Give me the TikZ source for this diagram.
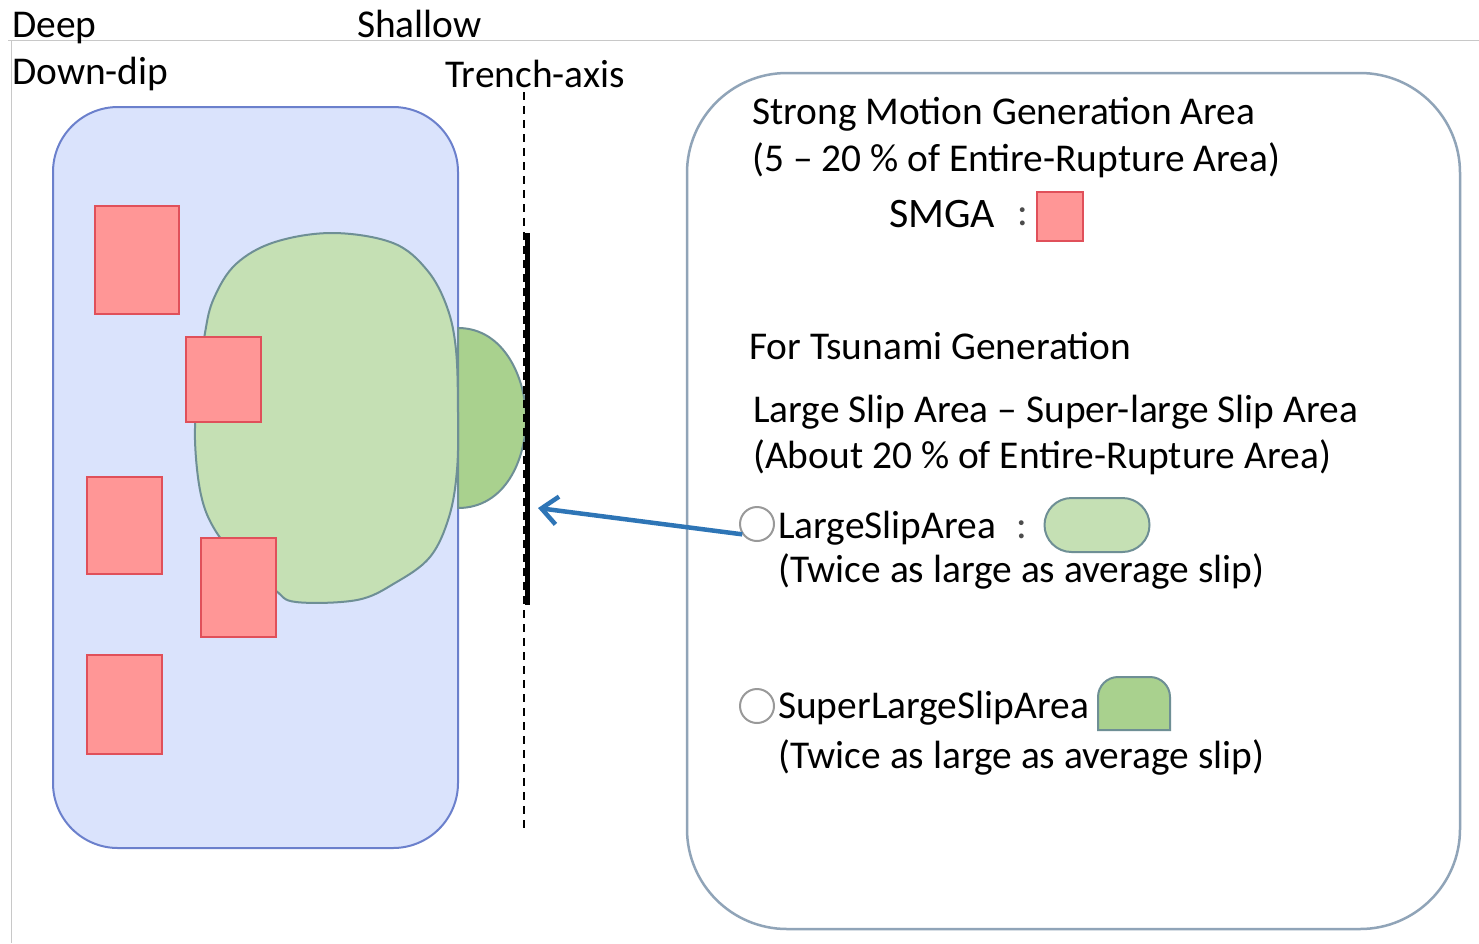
\documentclass[tikz,border=0pt]{standalone}
\usepackage{fontspec}
\setmainfont{Carlito}
\usetikzlibrary{arrows.meta}
\definecolor{faultfill}{HTML}{DAE3FC}
\definecolor{faultedge}{HTML}{6B80CC}
\definecolor{smgafill}{HTML}{FF9696}
\definecolor{smgaedge}{HTML}{E0505A}
\definecolor{lsafill}{HTML}{C5E0B4}
\definecolor{slsafill}{HTML}{A9D18E}
\definecolor{greenedge}{HTML}{6E8F95}
\definecolor{boxedge}{HTML}{90A4B8}
\definecolor{arrowblue}{HTML}{2E75B6}
\definecolor{rulegray}{HTML}{C8C8C8}
\begin{document}
\begin{tikzpicture}[x=1pt,y=-1pt,
  txt/.style={anchor=base west, inner sep=0pt, font=\fontsize{39.4}{47}\selectfont},
  smgabox/.style={draw=smgaedge, fill=smgafill, line width=2pt, inner sep=0pt},
  lsashape/.style={draw=greenedge, fill=lsafill, line width=2pt},
  slsashape/.style={draw=greenedge, fill=slsafill, line width=2pt},
  bullet/.style={circle, draw=gray!80, line width=2pt, minimum size=34pt, inner sep=0pt},
  colon/.style={anchor=base, inner sep=0pt, text=black!70, font=\fontsize{40}{47}\selectfont}]
\useasboundingbox (0,0) rectangle (1479,943);
\fill[white] (0,0) rectangle (1479,943);
% rules
\draw[rulegray, line width=1pt] (8,40) -- (1479,40);
\draw[rulegray, line width=1pt] (11,40) -- (11,943);
% header texts
\node[txt] (deep) at (12,37) {Deep};
\node[txt] (shallow) at (357,37) {Shallow};
\node[txt] (downdip) at (12,84) {Down-dip};
\node[txt] (trench) at (445,87) {Trench-axis};
% fault plane
\node[draw=faultedge, fill=faultfill, line width=2pt, rounded corners=65pt,
      minimum width=405pt, minimum height=741pt, inner sep=0pt] (fault) at (255.5,477.5) {};
% super large slip area (dark green)
\draw[slsashape] (458,328) .. controls (505,328) and (526,380) .. (526,418)
      .. controls (526,460) and (505,508) .. (458,508) -- cycle;
% large slip area (light green)
\draw[lsashape] plot[smooth cycle, tension=0.6] coordinates {
  (333,233) (393,243) (427,270) (447,307) (456,350) (458,413) (457,470)
  (449,517) (430,557) (395,583) (357,600) (296,602) (275,590) (240,560)
  (215,530) (201,495) (195,440) (198,390) (205,333) (214,298) (236,264) (275,242)};
% SMGAs
\node[smgabox, minimum width=84pt, minimum height=108pt] (r1) at (137,260) {};
\node[smgabox, minimum width=75pt, minimum height=85pt] (r2) at (223.5,379.5) {};
\node[smgabox, minimum width=75pt, minimum height=97pt] (r3) at (124.5,525.5) {};
\node[smgabox, minimum width=75pt, minimum height=99pt] (r4) at (238.5,587.5) {};
\node[smgabox, minimum width=75pt, minimum height=99pt] (r5) at (124.5,704.5) {};
% trench axis
\coordinate (dtop) at (524,92);
\coordinate (dbot) at (524,830);
\draw[black, line width=1.6pt, dash pattern=on 8pt off 6pt] (dtop) -- (dbot);
\coordinate (ttop) at (527,233);
\coordinate (tbot) at (527,605);
\draw[black, line width=5pt] (ttop) -- (tbot);
% legend box
\node[draw=boxedge, line width=2.5pt, rounded corners=100pt,
      minimum width=773pt, minimum height=856pt, inner sep=0pt] (legend) at (1073.5,501) {};
\node[txt] (smt1) at (752,124.5) {Strong Motion Generation Area};
\node[txt] (smt2) at (752,171) {(5 – 20 \% of Entire-Rupture Area)};
\node[txt, font=\fontsize{42}{50}\selectfont] (smga) at (889,227) {SMGA};
\node[colon] (col1) at (1023,225) {:};
\node[smgabox, minimum width=46pt, minimum height=49pt] (smgakey) at (1060,216.5) {};
\node[txt] (tsu) at (749,359) {For Tsunami Generation};
\node[txt] (ls1) at (753,422) {Large Slip Area – Super-large Slip Area};
\node[txt] (ls2) at (753,468) {(About 20 \% of Entire-Rupture Area)};
\node[bullet] (b1) at (757,524) {};
\node[txt] (lsa) at (778,538) {LargeSlipArea};
\node[colon] (col2) at (1022,538) {:};
\node[lsashape, rounded corners=27pt, minimum width=105pt, minimum height=54pt, inner sep=0pt] (lsakey) at (1097,525) {};
\node[txt] (lsa2) at (778,582) {(Twice as large as average slip)};
\node[bullet] (b2) at (757,706) {};
\node[txt] (slsa) at (778,718) {SuperLargeSlipArea};
\draw[slsashape] (1098,730) -- (1098,697) arc[start angle=180, end angle=270, radius=20]
      -- (1150,677) arc[start angle=270, end angle=360, radius=20] -- (1170,730) -- cycle;
\node[txt] (slsa2) at (778,768) {(Twice as large as average slip)};
% arrow
\coordinate (aend) at (538,508);
\draw[arrowblue, line width=4.5pt, -{Straight Barb[length=16pt, width=28pt]}] (b1.215) -- (aend);
\end{tikzpicture}
\end{document}
